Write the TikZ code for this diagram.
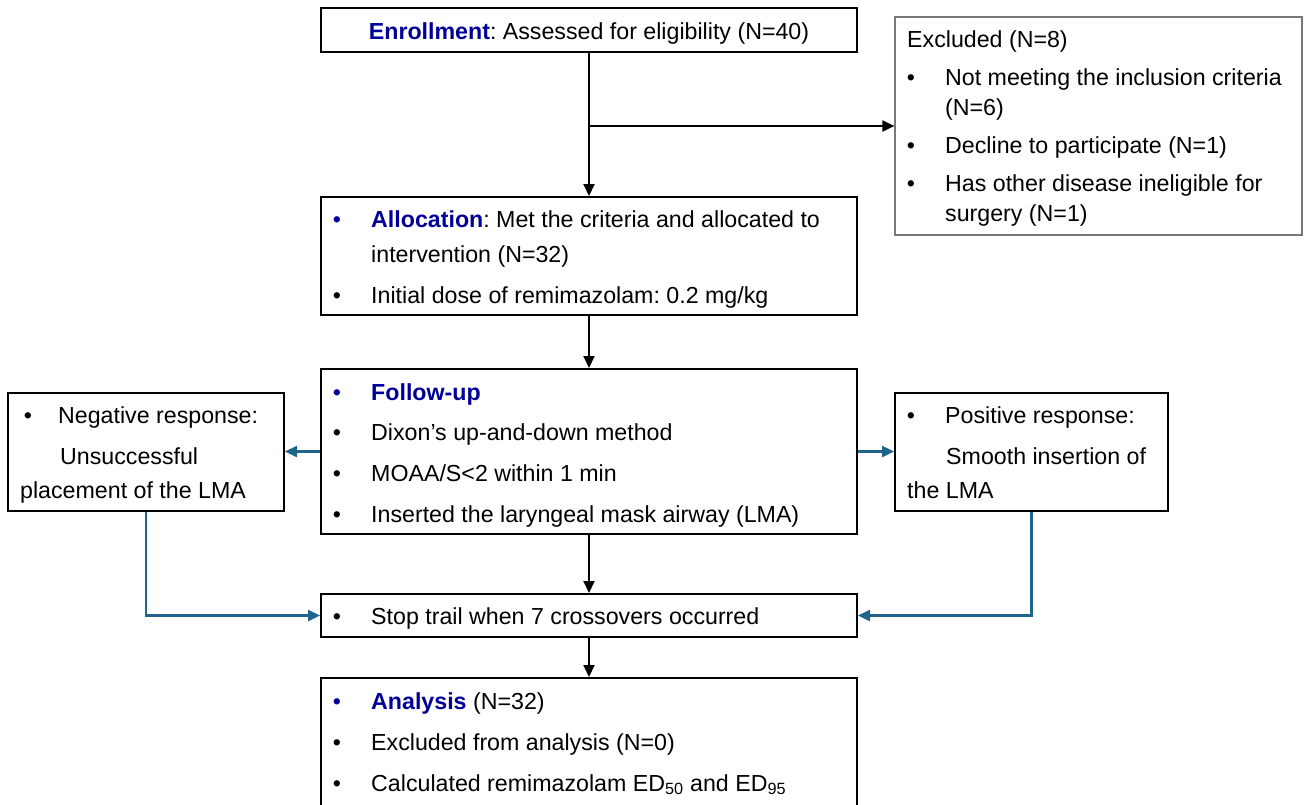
\documentclass[tikz,border=0pt]{standalone}
\usepackage{fontspec}
\setmainfont{Liberation Sans}
\usetikzlibrary{arrows.meta}
\frenchspacing
\definecolor{hdblue}{RGB}{0,0,153}
\definecolor{lnblue}{RGB}{30,100,140}
\definecolor{exgray}{RGB}{120,120,120}
\newcommand{\hd}[1]{\textcolor{hdblue}{\textbf{#1}}}
\tikzset{
  box/.style={draw=black, line width=2pt, inner sep=0pt, fill=white},
  exbox/.style={draw=exgray, line width=1.2pt, inner sep=0pt},
  txt/.style={anchor=base west, inner sep=0pt, font=\fontsize{23.2}{27}\selectfont},
  bul/.style={anchor=base, inner sep=0pt, font=\fontsize{23.2}{27}\selectfont},
  blkarr/.style={draw=black, line width=2pt, -{Triangle[length=12pt,width=11pt]}},
  bluarr/.style={draw=lnblue, line width=2.4pt, -{Triangle[length=12pt,width=11pt]}},
}
\begin{document}
\begin{tikzpicture}[x=1pt,y=-1pt]
\useasboundingbox (0,0) rectangle (1304,804);
% boxes
\node[box, minimum width=536pt, minimum height=44pt] (enr) at (589,30) {};
\node[exbox, minimum width=407pt, minimum height=218pt] (excl) at (1098.5,126) {};
\node[box, minimum width=536pt, minimum height=118pt] (alloc) at (589,256) {};
\node[box, minimum width=536pt, minimum height=165pt] (fu) at (589,451.5) {};
\node[box, minimum width=276pt, minimum height=118pt] (neg) at (146,452) {};
\node[box, minimum width=273pt, minimum height=118pt] (pos) at (1031.5,452) {};
\node[box, minimum width=536pt, minimum height=43pt] (stop) at (589,615.5) {};
\node[box, minimum width=536pt, minimum height=152pt] (ana) at (589,754) {};
% texts
\node[bul] (t-enr) at (589,39) {\hd{Enrollment}: Assessed for eligibility (N=40)};
\node[txt] (t-ex0) at (907,47) {Excluded (N=8)};
\node[bul] (b-ex1) at (911,85) {•};
\node[txt] (t-ex1) at (945,85) {Not meeting the inclusion criteria};
\node[txt] (t-ex1b) at (945,115) {(N=6)};
\node[bul] (b-ex2) at (911,153) {•};
\node[txt] (t-ex2) at (945,153) {Decline to participate (N=1)};
\node[bul] (b-ex3) at (911,191) {•};
\node[txt] (t-ex3) at (945,191) {Has other disease ineligible for};
\node[txt] (t-ex3b) at (945,221) {surgery (N=1)};
\node[bul, text=hdblue] (b-al1) at (337,227) {•};
\node[txt] (t-al1) at (371,227) {\hd{Allocation}: Met the criteria and allocated to};
\node[txt] (t-al1b) at (371,262) {intervention (N=32)};
\node[bul] (b-al2) at (337,303) {•};
\node[txt] (t-al2) at (371,303) {Initial dose of remimazolam: 0.2 mg/kg};
\node[bul, text=hdblue] (b-fu1) at (337,400) {•};
\node[txt] (t-fu1) at (371,400) {\hd{Follow-up}};
\node[bul] (b-fu2) at (337,440) {•};
\node[txt] (t-fu2) at (371,440) {Dixon’s up-and-down method};
\node[bul] (b-fu3) at (337,481) {•};
\node[txt] (t-fu3) at (371,481) {MOAA/S<2 within 1 min};
\node[bul] (b-fu4) at (337,522) {•};
\node[txt] (t-fu4) at (371,522) {Inserted the laryngeal mask airway (LMA)};
\node[bul] (b-ng1) at (28,423) {•};
\node[txt] (t-ng1) at (58,423) {Negative response:};
\node[txt] (t-ng2) at (60,464) {Unsuccessful};
\node[txt] (t-ng3) at (20,498) {placement of the LMA};
\node[bul] (b-ps1) at (911,423) {•};
\node[txt] (t-ps1) at (945,423) {Positive response:};
\node[txt] (t-ps2) at (946,464) {Smooth insertion of};
\node[txt] (t-ps3) at (907,498) {the LMA};
\node[bul] (b-st) at (337,624) {•};
\node[txt] (t-st) at (371,624) {Stop trail when 7 crossovers occurred};
\node[bul, text=hdblue] (b-an1) at (337,709) {•};
\node[txt] (t-an1) at (371,709) {\hd{Analysis} (N=32)};
\node[bul] (b-an2) at (337,750) {•};
\node[txt] (t-an2) at (371,750) {Excluded from analysis (N=0)};
\node[bul] (b-an3) at (337,791) {•};
\node[txt] (t-an3) at (371,791) {Calculated remimazolam ED\textsubscript{50} and ED\textsubscript{95}};
% connectors
\coordinate (br) at (589,126);
\draw[blkarr] (enr.south) -- (alloc.north);
\draw[blkarr] (br) -- (excl.west |- br);
\draw[blkarr] (alloc.south) -- (fu.north);
\draw[blkarr] (fu.south) -- (stop.north);
\draw[blkarr] (stop.south) -- (ana.north);
\draw[bluarr] (fu.west) -- (neg.east |- fu.west);
\draw[bluarr] (fu.east) -- (pos.west |- fu.east);
\draw[bluarr] (neg.south) |- (stop.west);
\draw[bluarr] (pos.south) |- (stop.east);
\end{tikzpicture}
\end{document}
